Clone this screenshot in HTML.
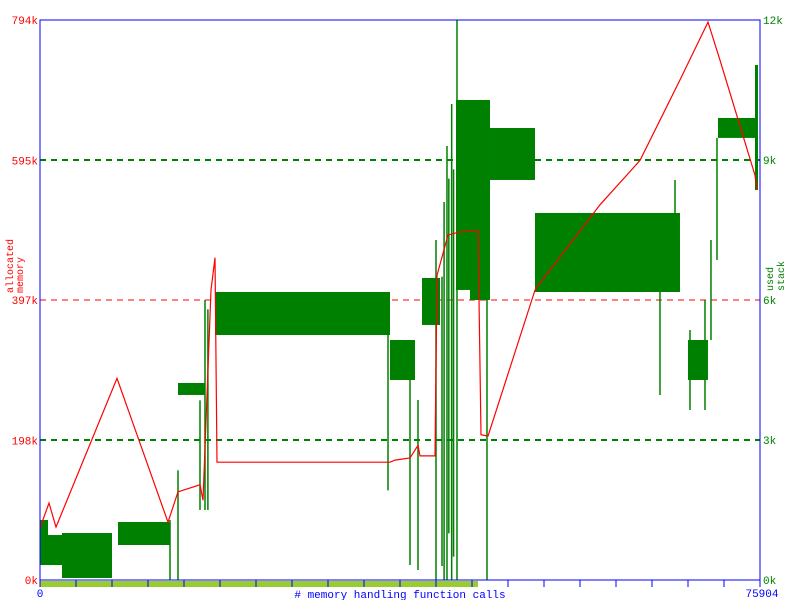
<!DOCTYPE html>
<html><head><meta charset="utf-8"><style>
body{margin:0;background:#fff}
svg{display:block}
text{font-family:"Liberation Mono","DejaVu Sans Mono",monospace;font-size:11px}
</style></head><body>
<svg id="chart" width="800" height="600" viewBox="0 0 800 600" xmlns="http://www.w3.org/2000/svg">
<g id="grid"></g>
<g id="stack"></g>
<g id="mem"></g>
<g id="axes"></g>
<g>
<text transform="translate(13,293) rotate(-90)" fill="#ff0000" style="font-size:10px">allocated</text>
<text transform="translate(23,293) rotate(-90)" fill="#ff0000" style="font-size:10px">memory</text>
</g>
<g>
<text transform="translate(773,291) rotate(-90)" fill="#008000" style="font-size:10px">used</text>
<text transform="translate(784,291) rotate(-90)" fill="#008000" style="font-size:10px">stack</text>
</g>
<text x="400" y="598" fill="#0000ff" text-anchor="middle"># memory handling function calls</text>
</svg>
<script>
const xMax = 75904, memMax = 794, stackMax = 12000;
const memTicks = [0, 198, 397, 595, 794];
const memTickLabels = ["0k", "198k", "397k", "595k", "794k"];
const stackTicks = [0, 3000, 6000, 9000, 12000];
const stackTickLabels = ["0k", "3k", "6k", "9k", "12k"];
const memCalls = [0,949,1687,8117,13494,14548,16867,17183,18027,18449,18660,36898,37425,39006,39849,40060,41641,41852,43011,44066,46174,46490,47228,52183,52710,59035,63252,65360,67468,70420,71685,75376,75587];
const memValues = [74,109,75,286,82,125,135,113,411,457,167,167,170,173,191,176,176,432,489,493,496,206,204,411,421,532,595,652,709,791,737,574,553];
const bandStart = [0,843,2319,8223,14548,18449,36898,40271,43855,45331,47439,52183,52183,68312,71474,75376];
const bandEnd = [843,2319,7590,13705,17394,36898,39533,42168,45331,47439,52183,67469,67469,70420,75376,75692];
const bandLow = [321,321,43,750,3965,5250,4286,5465,6215,6000,8572,6172,6172,4286,9473,8358];
const bandHigh = [1286,964,1007,1243,4222,6172,5143,6472,10286,10286,9686,7286,7865,5143,9901,11036];
const spikeCalls = [13705,14548,16867,17394,17700,36688,39006,39849,41746,42380,42600,42906,43100,43400,43600,43960,47123,65360,66944,68523,70104,70736,71369];
const spikeLow = [0,0,1500,1500,1500,1920,321,214,0,300,0,0,1000,0,500,0,0,3965,6215,3643,3643,5143,6858];
const spikeHigh = [1286,2350,3850,6000,5800,5250,5143,3858,7286,6500,8100,9300,8600,10200,8800,12000,10286,7072,8572,5358,6000,7286,9473];
const profiledEnd = 46174;

const L=40,R=760,T=20,B=580;
const xs=v=>L+v/xMax*(R-L);
const ym=v=>B-v/memMax*(B-T);
const yst=v=>B-v/stackMax*(B-T);
const NS="http://www.w3.org/2000/svg";
function mk(tag,parent,attrs){const e=document.createElementNS(NS,tag);for(const k in attrs)e.setAttribute(k,attrs[k]);parent.appendChild(e);return e;}
const grid=document.getElementById('grid'),stack=document.getElementById('stack'),mem=document.getElementById('mem'),axes=document.getElementById('axes');

for(let i=1;i<memTicks.length-1;i++){
  const l=mk('line',grid,{x1:L,x2:R,y1:ym(memTicks[i]),y2:ym(memTicks[i]),stroke:'#ff0000','stroke-dasharray':'6,5'});
  
  
}
for(let i=1;i<stackTicks.length-1;i++){
  if(i===2)continue;
  const l=mk('line',grid,{x1:L,x2:R,y1:yst(stackTicks[i]),y2:yst(stackTicks[i]),stroke:'#008000','stroke-width':2,'stroke-dasharray':'6,5'});
  
  
}
for(let i=0;i<bandStart.length;i++){
  const r=mk('rect',stack,{x:xs(bandStart[i]),y:yst(bandHigh[i]),width:Math.max(1,xs(bandEnd[i])-xs(bandStart[i])),height:yst(bandLow[i])-yst(bandHigh[i]),fill:'#008000'});
  
  
}
for(let i=0;i<spikeCalls.length;i++){
  const l=mk('line',stack,{x1:xs(spikeCalls[i]),x2:xs(spikeCalls[i]),y1:yst(spikeLow[i]),y2:yst(spikeHigh[i]),stroke:'#008000','stroke-width':1.5});
  
  
}
const pts=memCalls.map((c,i)=>xs(c).toFixed(1)+','+ym(memValues[i]).toFixed(1)).join(' ');
const pl=mk('polyline',mem,{points:pts,fill:'none',stroke:'#ff0000','stroke-width':1.2});


const pb=mk('rect',axes,{x:L,y:581,width:xs(profiledEnd)-L,height:6,fill:'#99cc33'});


const fr=mk('rect',axes,{x:L,y:T,width:R-L,height:B-T,fill:'none',stroke:'#0000ff'});


for(let i=0;i<=20;i++){
  const x=L+i*(R-L)/20;
  const t=mk('line',axes,{x1:x,x2:x,y1:B,y2:B+7,stroke:'#0000ff'});
  
  
}
for(let i=0;i<memTicks.length;i++){
  const t=mk('text',axes,{x:38,y:ym(memTicks[i])+4,fill:'#ff0000','text-anchor':'end'});
  t.textContent=memTickLabels[i];
  
  
}
for(let i=0;i<stackTicks.length;i++){
  const t=mk('text',axes,{x:763,y:yst(stackTicks[i])+4,fill:'#008000'});
  t.textContent=stackTickLabels[i];
  
  
}
const x0=mk('text',axes,{x:40,y:597,fill:'#0000ff','text-anchor':'middle'});
x0.textContent='0';


const x1=mk('text',axes,{x:762,y:597,fill:'#0000ff','text-anchor':'middle'});
x1.textContent=String(xMax);


</script>
</body></html>
